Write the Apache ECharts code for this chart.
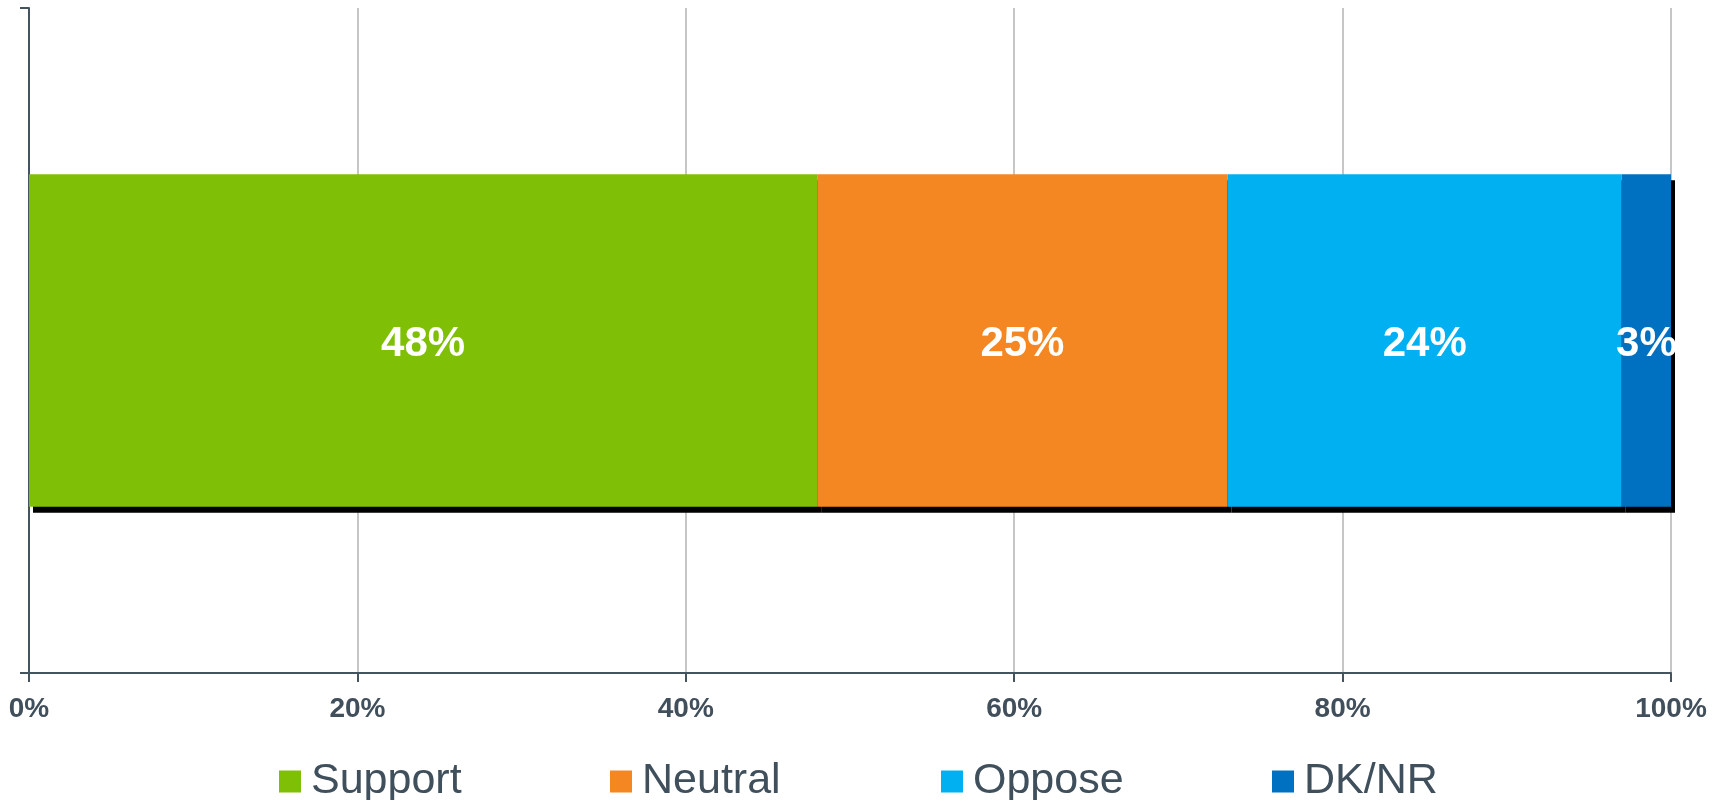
<!DOCTYPE html>
<html>
<head>
<meta charset="utf-8">
<script src="https://cdn.jsdelivr.net/npm/echarts@6/dist/echarts.min.js"></script>
<style>html,body{margin:0;padding:0;background:#fff;}#c{width:1725px;height:800px;}</style>
</head>
<body>
<div id="c"></div>
<script>
var categories = [''];
var seriesNames = ['Support', 'Neutral', 'Oppose', 'DK/NR'];
var supportValues = [48];
var neutralValues = [25];
var opposeValues = [24];
var dknrValues = [3];
var xTicks = [0, 20, 40, 60, 80, 100];
var colors = ['#7FBF06', '#F58722', '#00B0F0', '#0071C1'];
var valueLists = [supportValues, neutralValues, opposeValues, dknrValues];

var chart = echarts.init(document.getElementById('c'));
var font = '"Liberation Sans", Arial, sans-serif';
var series = seriesNames.map(function (n, i) {
  return {
    name: n,
    type: 'bar',
    stack: 'total',
    barWidth: '50%',
    data: valueLists[i],
    itemStyle: {
      color: colors[i],
      shadowColor: '#000',
      shadowBlur: 0,
      shadowOffsetX: 4,
      shadowOffsetY: 6
    },
    label: {
      show: true,
      position: 'inside',
      offset: [0, 4],
      formatter: '{c}%',
      color: '#fff',
      fontWeight: 'bold',
      fontSize: 42,
      fontFamily: font
    },
    emphasis: { disabled: true }
  };
});

chart.setOption({
  animation: false,
  grid: { left: 29, right: 54, top: 8, bottom: 127, containLabel: false },
  legend: {
    data: seriesNames,
    left: 279,
    top: 760,
    padding: 0,
    itemWidth: 22,
    itemHeight: 22,
    itemGap: 39,
    icon: 'rect',
    textStyle: {
      fontFamily: font,
      fontSize: 43,
      lineHeight: 43,
      color: '#3F4F5B',
      width: 260,
      padding: [0, 0, 0, 5]
    },
    selectedMode: false
  },
  xAxis: {
    type: 'value',
    min: xTicks[0],
    max: xTicks[xTicks.length - 1],
    interval: 20,
    axisLine: { show: true, lineStyle: { color: '#44545F', width: 2 } },
    axisTick: { show: true, length: 9, lineStyle: { color: '#44545F', width: 2 } },
    splitLine: { show: true, lineStyle: { color: '#C6C6C6', width: 2 } },
    axisLabel: {
      formatter: '{value}%',
      color: '#404F5B',
      fontWeight: 'bold',
      fontSize: 28,
      fontFamily: font,
      margin: 22
    }
  },
  yAxis: {
    type: 'category',
    data: categories,
    axisLine: { show: true, lineStyle: { color: '#44545F', width: 2 } },
    axisTick: { show: true, length: 9, lineStyle: { color: '#44545F', width: 2 } },
    axisLabel: { show: false }
  },
  series: series
});
</script>
</body>
</html>
